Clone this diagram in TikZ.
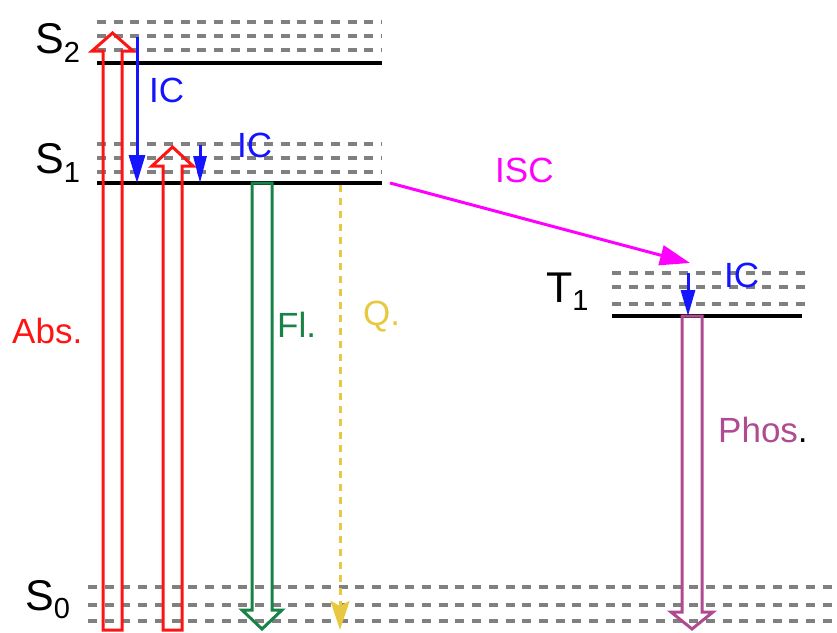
\documentclass[tikz,border=0pt]{standalone}
\usepackage{fontspec}
\setmainfont{Liberation Sans}
\usepackage{tikz}
\usetikzlibrary{arrows.meta}

\definecolor{absred}{RGB}{255,20,20}
\definecolor{icblue}{RGB}{20,20,255}
\definecolor{flgreen}{RGB}{25,130,70}
\definecolor{qyellow}{RGB}{232,200,64}
\definecolor{iscmagenta}{RGB}{255,0,255}
\definecolor{phospurple}{RGB}{175,75,145}
\definecolor{vibgray}{RGB}{128,128,128}

\begin{document}
\begin{tikzpicture}[
    x=1pt, y=-1pt,
    level/.style={line width=3.2pt, draw=black},
    vib/.style={line width=3.2pt, draw=vibgray, dash pattern=on 9pt off 7.7pt},
    state/.style={anchor=base west, inner sep=0pt, font=\fontsize{43}{43}\selectfont},
    proc/.style={anchor=base west, inner sep=0pt, font=\fontsize{35}{35}\selectfont},
    hollow/.style={line width=3pt, line join=miter},
    ic/.style={draw=icblue, line width=3pt, -{Triangle[length=28pt, width=16pt]}},
    isc/.style={draw=iscmagenta, line width=3pt, -{Triangle[length=30pt, width=20pt]}},
    quench/.style={draw=qyellow, line width=3pt, dash pattern=on 7pt off 6pt, -{Stealth[length=29pt, width=19pt, inset=5pt]}}
]
    \useasboundingbox (0,0) rectangle (837,632);

    % vibrational sublevels
    \foreach \y in {22,36,50,144,158,172}
        \draw[vib] (97,\y) -- (382,\y);
    \foreach \y in {273,287,304}
        \draw[vib] (612,\y) -- (807,\y);
    \foreach \y in {587,605,621}
        \draw[vib] (88,\y) -- (837,\y);

    % electronic levels
    \coordinate (S2a) at (97,63);   \coordinate (S2b) at (382,63);
    \coordinate (S1a) at (97,183);  \coordinate (S1b) at (382,183);
    \coordinate (T1a) at (612,316); \coordinate (T1b) at (802,316);
    \draw[level] (S2a) -- (S2b);
    \draw[level] (S1a) -- (S1b);
    \draw[level] (T1a) -- (T1b);

    \node[state] (S2) at (35,53) {S\raisebox{-9pt}{\fontsize{29}{29}\selectfont 2}};
    \node[state] (S1) at (35,173) {S\raisebox{-9pt}{\fontsize{29}{29}\selectfont 1}};
    \node[state] (T1) at (546,302) {T\raisebox{-8pt}{\fontsize{29}{29}\selectfont 1}};
    \node[state] (S0) at (25,610) {S\raisebox{-8pt}{\fontsize{29}{29}\selectfont 0}};

    % absorption, fluorescence, phosphorescence
    \draw[hollow, draw=absred] (103,630) -- (103,51) -- (92,51) -- (112.5,33) -- (133,51) -- (122,51) -- (122,630) -- cycle;
    \draw[hollow, draw=absred] (163,630) -- (163,166) -- (152,166) -- (172.5,147) -- (193,166) -- (182,166) -- (182,630) -- cycle;
    \draw[hollow, draw=flgreen] (252,183) -- (252,610) -- (242,610) -- (262,629) -- (282,610) -- (272,610) -- (272,183) -- cycle;
    \draw[hollow, draw=phospurple] (682,316) -- (682,612) -- (671,612) -- (692,629) -- (713,612) -- (702,612) -- (702,316) -- cycle;

    % internal conversion, crossing, quenching
    \coordinate (ic1s) at (137,37);
    \coordinate (ic2s) at (200,145);
    \coordinate (ic3s) at (688,273);
    \draw[ic] (ic1s) -- (ic1s |- S1a);
    \draw[ic, -{Triangle[length=27pt, width=13pt]}] (ic2s) -- (ic2s |- S1a);
    \draw[ic, -{Triangle[length=26pt, width=14pt]}] (ic3s) -- (ic3s |- T1a);

    \coordinate (iscend) at (690,263);
    \draw[isc] ([xshift=8pt]S1b) -- (iscend);

    \coordinate (qs) at (340,185);
    \coordinate (qe) at (340,630);
    \draw[quench] (qs) -- (qe);

    \node[proc, text=absred] (abs) at (12,343) {Abs.};
    \node[proc, text=icblue] (icA) at (149,102) {IC};
    \node[proc, text=icblue] (icB) at (237,157) {IC};
    \node[proc, text=icblue] (icC) at (724,287) {IC};
    \node[proc, text=iscmagenta] (iscl) at (495,182) {ISC};
    \node[proc, text=flgreen] (fl) at (277,337) {Fl.};
    \node[proc, text=qyellow] (q) at (363,325) {Q.};
    \node[proc, text=phospurple] (phos) at (718,442) {Phos\textcolor{black}{.}};
\end{tikzpicture}
\end{document}
